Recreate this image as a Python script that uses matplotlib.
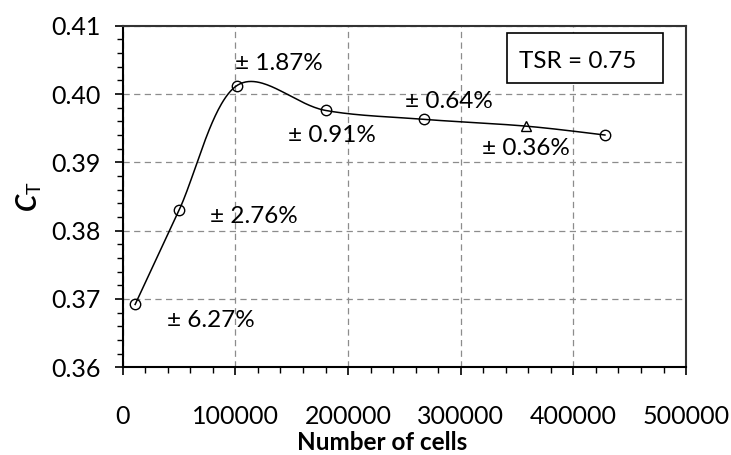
import numpy as np
import matplotlib
matplotlib.use("Agg")
import matplotlib.pyplot as plt
from matplotlib.patches import Rectangle

plt.rcParams['font.family'] = ['Lato', 'DejaVu Sans']
plt.rcParams['mathtext.fontset'] = 'custom'
plt.rcParams['mathtext.rm'] = 'Lato'
plt.rcParams['mathtext.bf'] = 'Lato:bold:italic'

# Mesh independence study data
cells = [11000, 50000, 101000, 180000, 267000, 358000, 428000]
ct = [0.3692, 0.3830, 0.4012, 0.3976, 0.3963, 0.3953, 0.3940]
markers = ['o', 'o', 'o', 'o', 'o', '^', 'o']
labels = ['± 6.27%', '± 2.76%', '± 1.87%', '± 0.91%', '± 0.64%', '± 0.36%', None]
label_offsets = [(76, -23), (75, -13), (42, 16), (6, -32), (25, 11), (0, -29), None]

x_ticks = [0, 100000, 200000, 300000, 400000, 500000]
y_ticks = [0.36, 0.37, 0.38, 0.39, 0.40, 0.41]
y_ticklabels = ['0.36', '0.37', '0.38', '0.39', '0.40', '0.41']


def smooth_curve(xs, ys, n=60):
    """Cubic Bezier smoothing through every point (spreadsheet-style smoothed line)."""
    P = np.column_stack([xs, ys]).astype(float)
    ext = np.vstack([P[0], P, P[-1]])
    out = []
    for i in range(len(P) - 1):
        p0, p1, p2, p3 = ext[i], ext[i + 1], ext[i + 2], ext[i + 3]
        c1 = p1 + (p2 - p0) / 6.0
        c2 = p2 - (p3 - p1) / 6.0
        t = np.linspace(0, 1, n)[:, None]
        seg = ((1 - t) ** 3) * p1 + 3 * ((1 - t) ** 2) * t * c1 + 3 * (1 - t) * t ** 2 * c2 + t ** 3 * p2
        out.append(seg if i == 0 else seg[1:])
    curve = np.vstack(out)
    return curve[:, 0], curve[:, 1]


fig = plt.figure(figsize=(7.31, 4.55), dpi=100)
ax = fig.add_axes([0.1679, 0.1927, 0.7706, 0.7508])

sx, sy = smooth_curve(cells, ct)
ax.plot(sx, sy, color='black', lw=1.1, zorder=3)
for x, y, m in zip(cells, ct, markers):
    ax.plot([x], [y], marker=m, ms=7.5 if m == 'o' else 7.5, mfc='none', mec='black',
            mew=1.0, linestyle='none', zorder=4)

for x, y, lab, off in zip(cells, ct, labels, label_offsets):
    if lab is None:
        continue
    ax.annotate(lab, xy=(x, y), xytext=off, textcoords='offset pixels',
                ha='center', va='baseline', fontsize=17.5, color='black')

ax.set_xlim(0, 500000)
ax.set_ylim(0.36, 0.41)
ax.set_xticks(x_ticks)
ax.set_xticklabels([str(v) for v in x_ticks])
ax.set_yticks(y_ticks)
ax.set_yticklabels(y_ticklabels)
ax.set_xticks(np.arange(0, 500001, 20000), minor=True)
ax.set_yticks(np.arange(0.36, 0.41001, 0.002), minor=True)

ax.tick_params(axis='both', which='major', direction='out', length=6, width=1.2,
               labelsize=18, color='black')
ax.tick_params(axis='both', which='minor', direction='out', length=4, width=1.0, color='black')
ax.tick_params(axis='x', which='major', pad=21)
ax.tick_params(axis='y', which='major', pad=10)

ax.grid(True, which='major', linestyle=(0, (5, 3.5)), color='#8c8c8c', lw=0.9)
ax.set_axisbelow(True)

for side in ['left', 'bottom']:
    ax.spines[side].set_linewidth(1.5)
    ax.spines[side].set_color('black')
for side in ['top', 'right']:
    ax.spines[side].set_linewidth(1.5)
    ax.spines[side].set_color('#333333')

ax.set_xlabel('Number of cells', fontsize=17.5, fontweight='bold', labelpad=2)
ax.xaxis.label.set_x((382.5 - 122.7) / 563.3)
ax.set_ylabel(r'$\mathbf{C}_{\mathrm{T}}$', fontsize=20)
ax.yaxis.set_label_coords(-0.14, 0.5)

ax.add_patch(Rectangle((0.682, 0.832), 0.277, 0.147, transform=ax.transAxes,
                       facecolor='white', edgecolor='black', lw=1.2, zorder=5))
ax.text(0.807, 0.876, 'TSR = 0.75', transform=ax.transAxes, ha='center',
        va='baseline', fontsize=17.5, zorder=6)

fig.savefig('out.png', dpi=100)
